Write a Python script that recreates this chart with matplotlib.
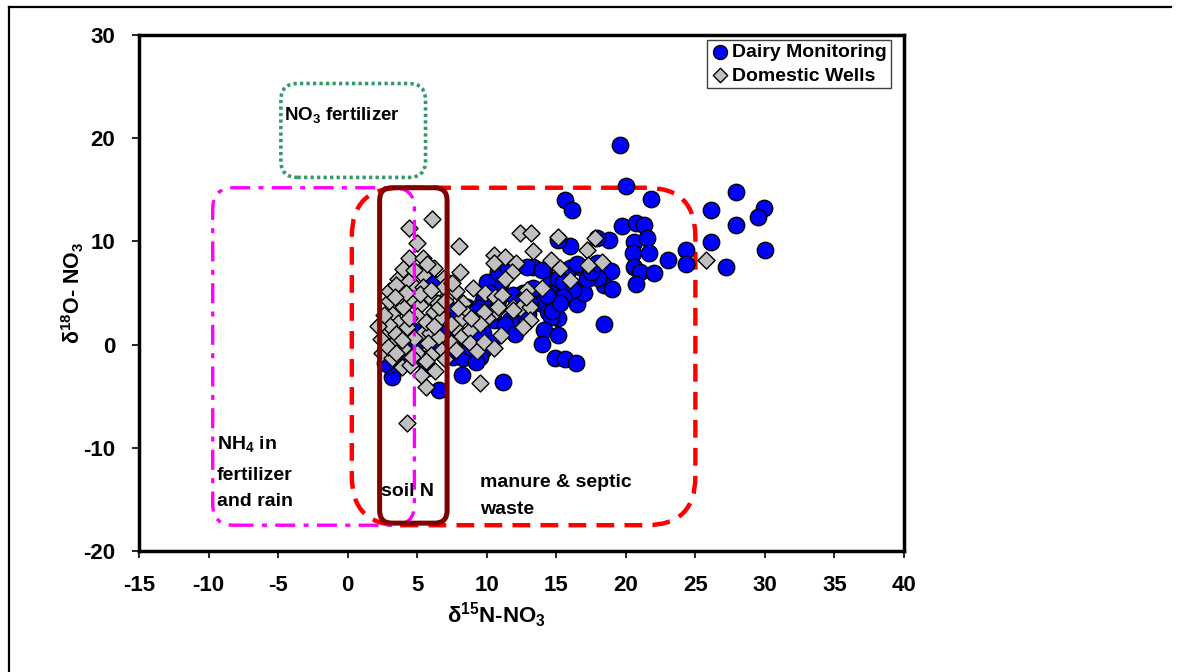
import matplotlib
matplotlib.use("Agg")
import matplotlib.pyplot as plt
from matplotlib.patches import FancyBboxPatch
from matplotlib.lines import Line2D

plt.rcParams['font.family'] = ['Liberation Sans', 'DejaVu Sans']
plt.rcParams['font.weight'] = 'bold'
plt.rcParams['mathtext.fontset'] = 'custom'
plt.rcParams['mathtext.rm'] = 'Liberation Sans:bold'
plt.rcParams['mathtext.bf'] = 'Liberation Sans:bold'
plt.rcParams['mathtext.it'] = 'Liberation Sans:bold'
plt.rcParams['mathtext.default'] = 'bf'

# ---- data ----
dairy_x = [19.6, 20.0, 21.8, 15.6, 16.1, 27.9, 29.9, 29.5, 26.1, 27.9, 26.1, 30.0, 27.2, 24.3, 24.3,
           23.0, 19.7, 20.7, 21.3, 18.8, 20.6, 21.5, 20.5, 21.7, 20.6, 21.0, 22.0, 20.7, 18.9, 18.4,
           19.0, 18.4, 17.9, 16.0, 15.1, 13.3, 14.1, 16.0, 16.7, 18.0, 14.6, 15.1, 16.1, 15.4, 16.5,
           17.0, 13.8, 14.4, 15.1, 14.6, 13.1, 12.3, 11.7, 14.1, 15.1, 14.0, 14.9, 15.6, 16.4, 11.2,
           15.1, 17.2, 15.5, 16.2, 15.5, 14.7, 15.3, 14.3, 13.3, 12.6, 11.9, 11.1, 11.0, 10.0, 10.2,
           9.7, 10.5, 11.3, 9.7, 10.3, 9.7, 9.5, 3.2, 3.0, 2.7, 5.7, 5.3, 6.6, 7.6, 8.3,
           9.2, 8.2, 9.3, 7.7, 8.6, 9.4, 10.1, 6.1, 10.8, 11.5, 10.8, 9.3, 12.9, 14.0, 7.0,
           8.0, 6.5, 4.2, 5.0, 8.8, 12.0, 13.0, 12.5, 16.5, 17.5, 17.9, 7.4, 6.8, 4.6, 3.6]
dairy_y = [19.3, 15.4, 14.1, 14.0, 13.0, 14.8, 13.2, 12.4, 13.0, 11.6, 9.9, 9.2, 7.5, 9.2, 7.8,
           8.2, 11.5, 11.8, 11.6, 10.1, 9.9, 10.3, 8.9, 8.9, 7.5, 7.0, 6.9, 5.9, 7.1, 5.8,
           5.4, 2.0, 10.3, 9.6, 10.1, 7.5, 7.2, 7.4, 7.5, 6.5, 6.2, 5.6, 5.5, 4.7, 3.9,
           5.0, 4.0, 3.2, 2.6, 2.7, 4.0, 2.2, 2.4, 1.4, 0.9, 0.1, -1.3, -1.4, -1.8, -3.6,
           6.4, 6.4, 6.1, 5.3, 4.6, 3.3, 4.0, 4.8, 5.5, 5.0, 4.8, 7.0, 6.1, 6.1, 5.0,
           4.3, 2.4, 1.9, 1.1, 0.2, -0.5, -1.2, -3.1, -2.0, -1.8, -2.3, -1.3, -4.4, -1.2, -1.3,
           -1.7, -2.9, 1.2, 3.3, 3.6, 3.5, 3.0, 6.0, 7.0, 7.4, 4.3, 3.3, 7.5, 7.2, 1.5,
           0.5, -0.5, -1.0, 0.3, -0.2, 1.0, 3.0, 4.2, 7.8, 7.0, 7.9, 0.0, 2.8, 1.8, 0.5]

wells_x = [6.1, 4.4, 5.0, 8.0, 4.4, 5.4, 10.5, 11.3, 10.5, 8.1, 3.6, 4.4, 4.9, 5.4, 5.4,
           6.9, 9.0, 12.4, 13.2, 13.3, 12.1, 11.8, 11.3, 9.9, 10.6, 11.1, 11.9, 12.4, 10.7, 10.0,
           13.1, 13.1, 12.6, 8.3, 8.6, 8.1, 7.7, 3.2, 4.0, 3.6, 4.3, 2.8, 3.3, 2.5, 5.4,
           5.9, 6.6, 6.8, 4.3, 5.6, 5.3, 9.5, 3.9, 4.5, 15.1, 17.8, 17.2, 14.6, 15.3, 17.3,
           18.3, 16.0, 12.9, 14.0, 10.8, 9.8, 12.8, 11.9, 25.8,
           3.0, 3.8, 4.6, 5.2, 5.9, 6.5, 7.2, 7.8, 6.2, 5.0, 4.4, 5.6, 6.8, 7.4, 6.2,
           3.0, 2.6, 2.4, 3.5, 4.8, 5.8, 7.4, 8.2, 8.8, 4.0, 5.0, 6.0, 7.0, 3.2, 4.6,
           5.6, 8.8, 9.3, 9.8, 10.5, 11.0, 9.5, 8.9, 7.9, 6.9, 6.2, 7.5, 4.0, 3.0, 3.5,
           5.7, 2.9, 3.9, 2.2, 7.8, 6.3, 3.5, 4.8, 5.2, 6.0, 6.6, 7.0, 4.2, 3.4]
wells_y = [12.2, 11.3, 9.8, 9.6, 8.4, 8.4, 8.7, 8.5, 7.9, 7.0, 6.4, 6.2, 5.5, 6.7, 5.6,
           6.5, 5.5, 10.8, 10.8, 9.1, 7.9, 7.0, 6.4, 5.0, 4.6, 4.8, 3.6, 3.5, 3.3, 2.6,
           3.6, 2.4, 1.7, 4.0, 3.0, 2.4, 1.6, 3.0, 3.6, 2.1, 1.7, 1.1, 0.2, -0.8, 1.1,
           1.1, 0.7, -0.5, -7.6, -4.1, -2.9, -3.7, -2.2, -2.0, 10.4, 10.3, 9.2, 8.2, 7.4, 7.7,
           8.0, 6.3, 5.3, 5.5, 3.6, 3.2, 4.6, 3.4, 8.2,
           4.2, 4.8, 4.4, 3.8, 4.6, 4.0, 4.8, 5.2, 3.2, 2.8, 2.6, 2.2, 2.6, 2.0, 1.8,
           1.9, 2.9, 0.5, 1.0, 0.6, 0.2, 0.2, 0.8, 1.4, -0.3, -0.8, -1.0, -1.4, -1.3, -1.2,
           -1.6, 0.2, -0.6, 0.3, -0.3, 0.9, 2.0, 2.6, 3.5, 5.6, 7.4, 6.0, 7.3, 5.2, 5.8,
           7.8, -0.2, 0.4, 1.8, -0.5, -2.6, -0.8, 7.2, 4.9, 5.3, 3.6, 4.2, 5.0, 4.6]

x_ticks = [-15, -10, -5, 0, 5, 10, 15, 20, 25, 30, 35, 40]
y_ticks = [-20, -10, 0, 10, 20, 30]

W, H = 1177, 672
fig = plt.figure(figsize=(W / 100, H / 100), dpi=100)
ax = fig.add_axes([139 / W, 1 - 551 / H, (904 - 139) / W, (551 - 35) / H])
ax.set_xlim(-15, 40)
ax.set_ylim(-20, 30)

# aspect factor (px per x-unit / px per y-unit)
asp = (765 / 55) / (516 / 50)


def rbox(x0, y0, x1, y1, r, **kw):
    p = FancyBboxPatch((x0, y0), x1 - x0, y1 - y0,
                       boxstyle=f"round,pad=0,rounding_size={r}",
                       mutation_aspect=asp, fill=False, **kw)
    ax.add_patch(p)
    return p


# source regions
rbox(-4.8, 16.2, 5.6, 25.3, 1.2, edgecolor='#339966', lw=2.6,
     linestyle=(0, (0.9, 0.9)), zorder=2)
rbox(0.3, -17.5, 25.0, 15.2, 3.5, edgecolor='#FF0000', lw=3.2,
     linestyle=(0, (4, 2.3)), zorder=2)

ax.scatter(dairy_x, dairy_y, s=140, marker='o', facecolor='#0000FF',
           edgecolor='black', linewidth=1.0, zorder=3, label='Dairy Monitoring')
ax.scatter(wells_x, wells_y, s=75, marker='D', facecolor='#C0C0C0',
           edgecolor='black', linewidth=1.0, zorder=3.5, label='Domestic Wells')

rbox(-9.7, -17.5, 4.8, 15.2, 1.5, edgecolor='#FF00FF', lw=2.4,
     linestyle=(0, (6, 2.5, 1.5, 2.5)), zorder=4)
rbox(2.3, -17.3, 7.15, 15.2, 0.9, edgecolor='#800000', lw=3.6,
     linestyle='-', zorder=4.5)

# annotations
fs_ann = 14
ax.text(-4.6, 22.2, 'NO$_3$ fertilizer', fontsize=13.5, fontweight='bold',
        ha='left', va='center')
ax.text(-9.4, -9.6, 'NH$_4$ in', fontsize=fs_ann, fontweight='bold', ha='left', va='center')
ax.text(-9.4, -12.7, 'fertilizer', fontsize=fs_ann, fontweight='bold', ha='left', va='center')
ax.text(-9.4, -15.2, 'and rain', fontsize=fs_ann, fontweight='bold', ha='left', va='center')
ax.text(2.4, -14.2, 'soil N', fontsize=fs_ann, fontweight='bold', ha='left', va='center')
ax.text(9.5, -13.4, 'manure & septic', fontsize=fs_ann, fontweight='bold', ha='left', va='center')
ax.text(9.5, -16.0, 'waste', fontsize=fs_ann, fontweight='bold', ha='left', va='center')

# axes styling
for sp in ax.spines.values():
    sp.set_linewidth(2.5)
    sp.set_color('black')
ax.set_xticks(x_ticks)
ax.set_yticks(y_ticks)
ax.set_xticklabels([str(v) for v in x_ticks])
ax.set_yticklabels([str(v) for v in y_ticks])
ax.tick_params(direction='out', length=5, width=1.2, labelsize=16, pad=12)
for lbl in ax.get_xticklabels() + ax.get_yticklabels():
    lbl.set_fontweight('bold')

ax.set_xlabel('δ$^{15}$N-NO$_3$', fontsize=16, fontweight='bold')
ax.xaxis.set_label_coords((496 - 139) / 765, -0.095)
ax.set_ylabel('δ$^{18}$O- NO$_3$', fontsize=15.5, fontweight='bold')
ax.yaxis.set_label_coords(-0.069, 0.5)

leg = ax.legend(loc='upper right', bbox_to_anchor=(0.983, 0.991),
                fancybox=False, framealpha=1, edgecolor='#404040',
                prop={'weight': 'bold', 'size': 14}, handletextpad=0.2,
                handlelength=0.9, borderpad=0.2, labelspacing=0.3,
                borderaxespad=0, markerscale=0.85)
leg.get_frame().set_linewidth(1.0)

# outer frame lines
fig.add_artist(Line2D([9 / W, 9 / W], [0, 1 - 7 / H], color='black', lw=1.6,
                      transform=fig.transFigure))
fig.add_artist(Line2D([9 / W, 1171 / W], [1 - 7 / H, 1 - 7 / H], color='black', lw=1.6,
                      transform=fig.transFigure))

fig.savefig('out.png', dpi=100)
